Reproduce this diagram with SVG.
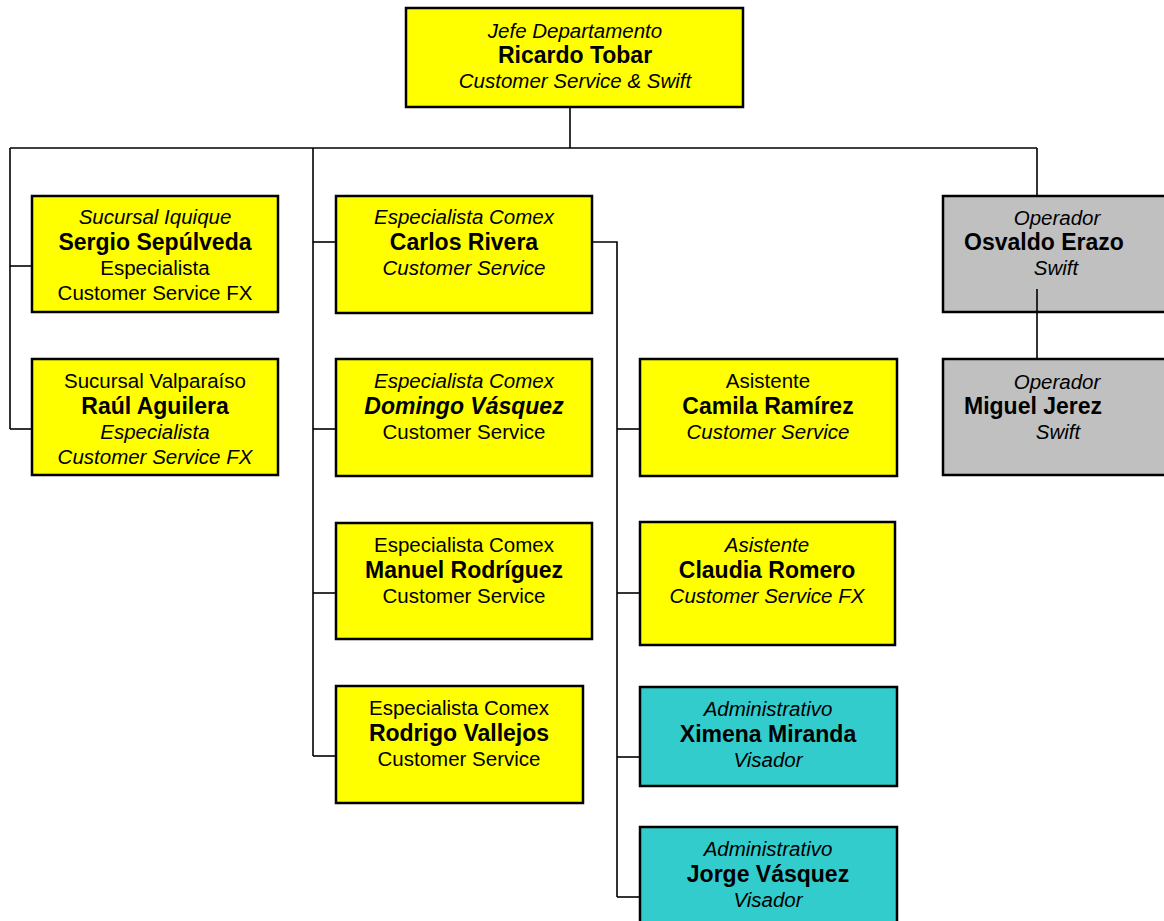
<svg xmlns="http://www.w3.org/2000/svg" width="1164" height="921" viewBox="0 0 1164 921">
<style>
.box{stroke:#000;stroke-width:2.5}
.y{fill:#FFFF00}
.g{fill:#C0C0C0}
.t{fill:#33CCCC}
text{font-family:"Liberation Sans",Arial,sans-serif;font-size:20.5px;fill:#000;text-anchor:middle}
.b{font-weight:bold;font-size:23px}
.i{font-style:italic}
.s{text-anchor:start}
.c line,.c path{stroke:#000;stroke-width:1.6;fill:none}
</style>
<rect width="1164" height="921" fill="#fff"/>
<g class="c" id="connectors">
<line x1="570" y1="107" x2="570" y2="148"/>
<line x1="10" y1="148" x2="1037" y2="148"/>
<line x1="10" y1="148" x2="10" y2="429"/>
<line x1="10" y1="266" x2="32" y2="266"/>
<line x1="10" y1="429" x2="32" y2="429"/>
<line x1="313" y1="148" x2="313" y2="756"/>
<line x1="313" y1="242" x2="336" y2="242"/>
<line x1="313" y1="429" x2="336" y2="429"/>
<line x1="313" y1="593" x2="336" y2="593"/>
<line x1="313" y1="756" x2="336" y2="756"/>
<path d="M592 242H617V897"/>
<line x1="617" y1="429" x2="640" y2="429"/>
<line x1="617" y1="593" x2="640" y2="593"/>
<line x1="617" y1="757" x2="640" y2="757"/>
<line x1="617" y1="897" x2="640" y2="897"/>
<line x1="1037" y1="148" x2="1037" y2="196"/>
</g>
<g id="ricardo">
<rect class="box y" x="406" y="8" width="337" height="99"/>
<text class="i" x="575" y="38">Jefe Departamento</text>
<text class="b" x="575" y="63">Ricardo Tobar</text>
<text class="i" x="575" y="88">Customer Service &amp; Swift</text>
</g>
<g id="sergio">
<rect class="box y" x="32" y="196" width="246" height="116"/>
<text class="i" x="155" y="224">Sucursal Iquique</text>
<text class="b" x="155" y="250">Sergio Sepúlveda</text>
<text x="155" y="275">Especialista</text>
<text x="155" y="300">Customer Service FX</text>
</g>
<g id="raul">
<rect class="box y" x="32" y="359" width="246" height="116"/>
<text x="155" y="388">Sucursal Valparaíso</text>
<text class="b" x="155" y="414">Raúl Aguilera</text>
<text class="i" x="155" y="439">Especialista</text>
<text class="i" x="155" y="464">Customer Service FX</text>
</g>
<g id="carlos">
<rect class="box y" x="336" y="196" width="256" height="117"/>
<text class="i" x="464" y="224">Especialista Comex</text>
<text class="b" x="464" y="250">Carlos Rivera</text>
<text class="i" x="464" y="275">Customer Service</text>
</g>
<g id="domingo">
<rect class="box y" x="336" y="359" width="256" height="117"/>
<text class="i" x="464" y="388">Especialista Comex</text>
<text class="b i" x="464" y="414">Domingo Vásquez</text>
<text x="464" y="439">Customer Service</text>
</g>
<g id="manuel">
<rect class="box y" x="336" y="523" width="256" height="116"/>
<text x="464" y="552">Especialista Comex</text>
<text class="b" x="464" y="578">Manuel Rodríguez</text>
<text x="464" y="603">Customer Service</text>
</g>
<g id="rodrigo">
<rect class="box y" x="336" y="686" width="247" height="117"/>
<text x="459" y="715">Especialista Comex</text>
<text class="b" x="459" y="741">Rodrigo Vallejos</text>
<text x="459" y="766">Customer Service</text>
</g>
<g id="camila">
<rect class="box y" x="640" y="359" width="257" height="117"/>
<text x="768" y="388">Asistente</text>
<text class="b" x="768" y="414">Camila Ramírez</text>
<text class="i" x="768" y="439">Customer Service</text>
</g>
<g id="claudia">
<rect class="box y" x="640" y="522" width="255" height="123"/>
<text class="i" x="767" y="552">Asistente</text>
<text class="b" x="767" y="578">Claudia Romero</text>
<text class="i" x="767" y="603">Customer Service FX</text>
</g>
<g id="ximena">
<rect class="box t" x="640" y="687" width="257" height="99"/>
<text class="i" x="768" y="716">Administrativo</text>
<text class="b" x="768" y="742">Ximena Miranda</text>
<text class="i" x="768" y="767">Visador</text>
</g>
<g id="jorge">
<rect class="box t" x="640" y="827" width="257" height="120"/>
<text class="i" x="768" y="856">Administrativo</text>
<text class="b" x="768" y="882">Jorge Vásquez</text>
<text class="i" x="768" y="907">Visador</text>
</g>
<g id="osvaldo">
<rect class="box g" x="943" y="196" width="240" height="116"/>
<text class="i" x="1057" y="225">Operador</text>
<text class="b s" x="964" y="250">Osvaldo Erazo</text>
<text class="i" x="1056" y="275">Swift</text>
</g>
<g id="miguel">
<rect class="box g" x="943" y="359" width="240" height="116"/>
<text class="i" x="1057" y="389">Operador</text>
<text class="b s" x="964" y="414">Miguel Jerez</text>
<text class="i" x="1058" y="439">Swift</text>
</g>
<g class="c" id="connectors-2">
<line x1="1037" y1="289" x2="1037" y2="359"/>
</g>
</svg>
